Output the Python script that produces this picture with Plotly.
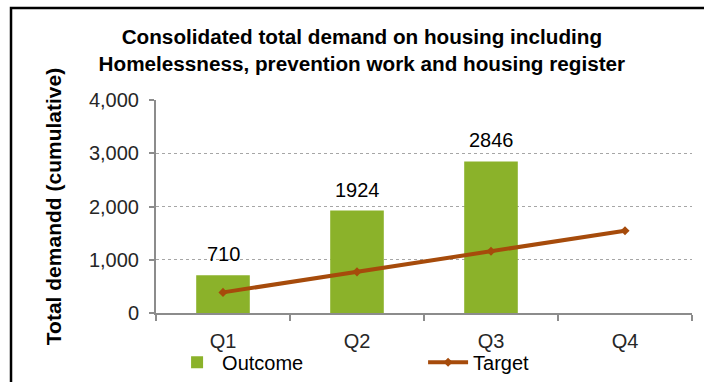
import plotly.graph_objects as go

# Quarterly categories and cumulative series values
quarters = ["Q1", "Q2", "Q3", "Q4"]
outcome = [710, 1924, 2846]
target = [387, 773, 1160, 1546]
y_ticks = [0, 1000, 2000, 3000, 4000]

GREEN = "#8BB22A"
BROWN = "#A64B0B"
AXIS_GRAY = "#8C8C8C"
FONT = "Liberation Sans, Arial, sans-serif"

fig = go.Figure()

fig.add_trace(go.Bar(
    x=quarters[:len(outcome)],
    y=outcome,
    name="Outcome",
    marker=dict(color=GREEN, line=dict(width=0)),
    width=0.4,
))

fig.add_trace(go.Scatter(
    x=quarters,
    y=target,
    name="Target",
    mode="lines+markers",
    line=dict(color=BROWN, width=4),
    marker=dict(symbol="diamond", size=7, color=BROWN),
))

# Value labels above each outcome bar
for q, v in zip(quarters, outcome):
    fig.add_annotation(
        x=q, y=v, text=str(v), showarrow=False,
        yanchor="bottom", yshift=8,
        font=dict(family=FONT, size=20, color="#000000"),
    )

# Outer frame of the chart area
fig.add_shape(
    type="rect", xref="paper", yref="paper",
    x0=-0.2705, x1=1.6, y0=-1.0, y1=1.432,
    line=dict(color="#000000", width=2.5),
    fillcolor="rgba(0,0,0,0)", layer="below",
)

fig.update_layout(
    width=704,
    height=382,
    margin=dict(l=156, r=12, t=100, b=69, autoexpand=False),
    paper_bgcolor="#FFFFFF",
    plot_bgcolor="#FFFFFF",
    font=dict(family=FONT, color="#262626"),
    title=dict(
        text="Consolidated total demand on housing including<br>Homelessness, prevention work and housing register",
        x=0.514, xanchor="center", xref="container",
        y=0.885, yanchor="top", yref="container",
        font=dict(family=FONT, size=20.7, color="#000000", weight="bold"),
    ),
    showlegend=True,
    legend=dict(
        orientation="h",
        x=0.03, xanchor="left",
        y=-0.14, yanchor="top",
        font=dict(family=FONT, size=20, color="#000000"),
        itemwidth=40,
        entrywidth=196,
        bgcolor="rgba(0,0,0,0)",
    ),
)

fig.update_yaxes(
    range=[0, 4000],
    tickvals=y_ticks,
    tickformat=",",
    tickfont=dict(family=FONT, size=20, color="#262626"),
    showline=True, linecolor=AXIS_GRAY, linewidth=2,
    ticks="outside", ticklen=5, tickcolor=AXIS_GRAY, tickwidth=2,
    showgrid=True, gridcolor="#A6A6A6", gridwidth=1, griddash="dot",
    zeroline=False,
    ticklabelstandoff=6,
    title=dict(
        text="Total demandd (cumulative)",
        font=dict(family=FONT, size=21, color="#000000", weight="bold"),
        standoff=22,
    ),
)

fig.update_xaxes(
    type="category",
    categoryorder="array", categoryarray=quarters,
    range=[-0.5, 3.5],
    tickfont=dict(family=FONT, size=20, color="#262626"),
    showline=True, linecolor=AXIS_GRAY, linewidth=2,
    ticks="outside", tickson="boundaries", ticklen=6, tickcolor=AXIS_GRAY, tickwidth=2,
    ticklabelstandoff=9,
    showgrid=False,
    zeroline=False,
)

fig.write_html("out.html")
